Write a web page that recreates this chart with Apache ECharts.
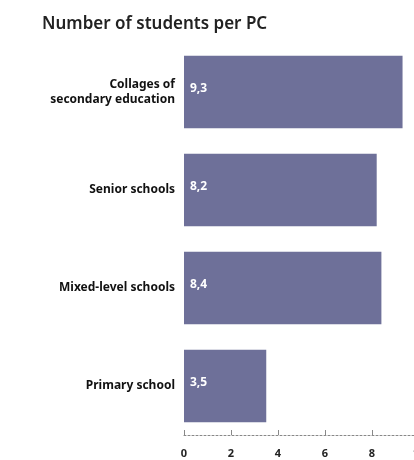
<!DOCTYPE html>
<html>
<head>
<meta charset="utf-8">
<script src="https://cdn.jsdelivr.net/npm/echarts@6/dist/echarts.min.js"></script>
<style>
  html, body { margin: 0; padding: 0; background: #fff; }
  #main { width: 414px; height: 460px; }
</style>
</head>
<body>
<div id="main"></div>
<script>
// 类别（从下到上）
const categories = ['Primary school', 'Mixed-level schools', 'Senior schools', 'Collages of\nsecondary education']
// 每台电脑的学生数
const values = [3.5, 8.4, 8.2, 9.3]
// 横轴刻度
const xTicks = [0, 2, 4, 6, 8, 10]

const myChart = echarts.init(document.querySelector('#main'))
const option = {
  animation: false,
  title: {
    text: 'Number of students per PC',
    left: 37,
    top: 11,
    textStyle: {
      fontFamily: 'Noto Sans',
      fontSize: 17,
      fontWeight: 600,
      color: '#222'
    }
  },
  grid: {
    left: 184,
    right: -5,
    top: 43,
    bottom: 25,
    // 不让标签挤压绘图区
    outerBoundsMode: 'none',
    containLabel: false
  },
  xAxis: {
    type: 'value',
    min: xTicks[0],
    max: xTicks[xTicks.length - 1],
    interval: 2,
    axisLine: {
      show: true,
      lineStyle: { color: '#888', type: [2, 2], width: 1 }
    },
    axisTick: {
      show: true,
      inside: true,
      length: 5,
      lineStyle: { color: '#888' }
    },
    splitLine: { show: false },
    axisLabel: {
      color: '#222',
      fontSize: 11,
      fontWeight: 'bold',
      margin: 13,
      fontFamily: 'Noto Sans'
    }
  },
  yAxis: {
    type: 'category',
    data: categories,
    axisLine: { show: false },
    axisTick: { show: false },
    axisLabel: {
      color: '#111',
      fontSize: 12,
      fontWeight: 'bold',
      margin: 9,
      lineHeight: 15,
      fontFamily: 'Noto Sans'
    }
  },
  series: [
    {
      type: 'bar',
      data: values,
      barWidth: '74%',
      itemStyle: {
        color: '#6e7099'
      },
      label: {
        show: true,
        position: 'insideLeft',
        offset: [1, -3],
        color: '#fff',
        fontSize: 12,
        fontWeight: 'bold',
        fontFamily: 'Noto Sans',
        formatter: p => String(p.value).replace('.', ',')
      }
    }
  ]
}
myChart.setOption(option)
</script>
</body>
</html>
